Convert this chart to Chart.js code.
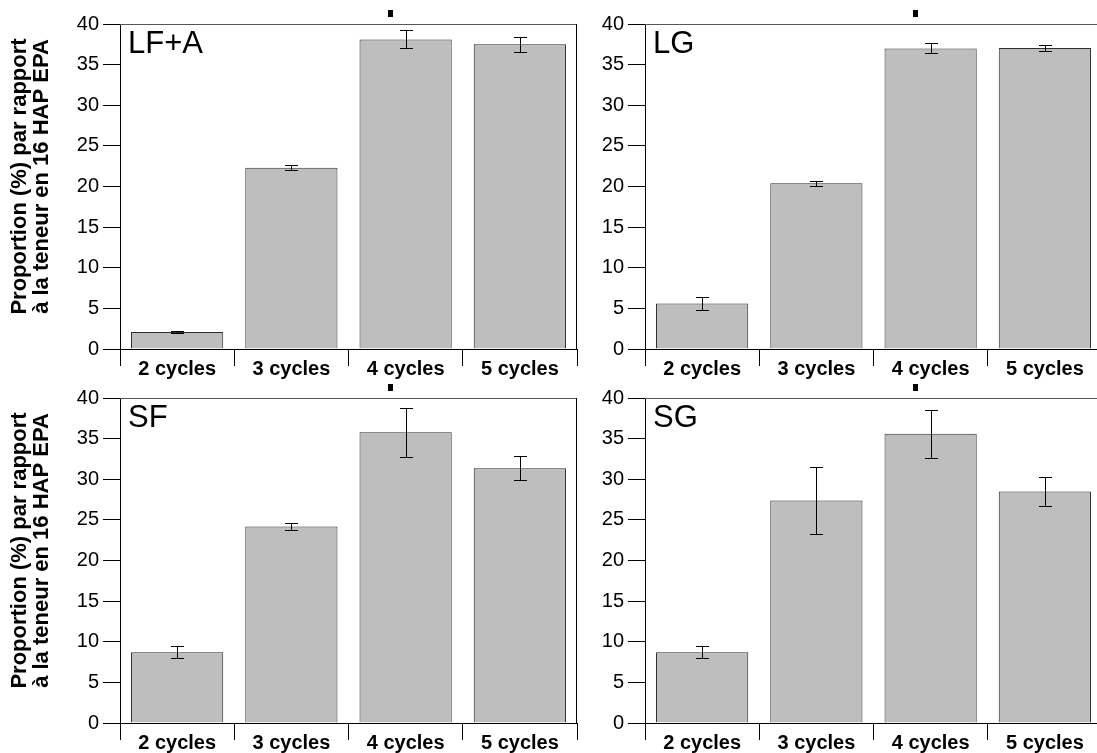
<!DOCTYPE html>
<html>
<head>
<meta charset="utf-8">
<script src="https://cdn.jsdelivr.net/npm/chart.js@4.4.1/dist/chart.umd.min.js"></script>
<style>
  html, body { margin: 0; padding: 0; background: #fff; overflow: hidden; }
  body { width: 1097px; height: 753px; position: relative; }
  canvas { position: absolute; }
</style>
</head>
<body>
<canvas id="cLFA" width="578" height="380" style="left:0;top:0"></canvas>
<canvas id="cLG" width="578" height="380" style="left:525px;top:0"></canvas>
<canvas id="cSF" width="578" height="380" style="left:0;top:374px"></canvas>
<canvas id="cSG" width="578" height="380" style="left:525px;top:374px"></canvas>
<script>
// categories et graduations
const categories = ['2 cycles', '3 cycles', '4 cycles', '5 cycles'];
const yTickValues = [0, 5, 10, 15, 20, 25, 30, 35, 40];
const yTitle = ['Proportion (%) par rapport', 'à la teneur en 16 HAP EPA'];

// moyennes et écarts (%)
const valuesLFA = [2.1, 22.3, 38.1, 37.5];
const errorsLFA = [0.08, 0.3, 1.1, 0.9];
const valuesLG = [5.6, 20.4, 37.0, 37.05];
const errorsLG = [0.75, 0.33, 0.6, 0.4];
const valuesSF = [8.7, 24.2, 35.8, 31.35];
const errorsSF = [0.74, 0.45, 3.0, 1.45];
const valuesSG = [8.7, 27.4, 35.6, 28.5];
const errorsSG = [0.72, 4.1, 2.95, 1.75];

const FONT = '"Liberation Sans", Arial, Helvetica, sans-serif';

const decor = {
    id: 'decor',
    afterDatasetsDraw(chart, args, opts) {
        const ctx = chart.ctx;
        const a = chart.chartArea;
        const x = chart.scales.x, y = chart.scales.y;
        ctx.save();

        // barres d'erreur
        ctx.strokeStyle = '#000';
        ctx.lineWidth = 1;
        chart.getDatasetMeta(0).data.forEach((bar, i) => {
            const v = opts.values[i], e = opts.errors[i];
            const yt = Math.round(y.getPixelForValue(v + e)) + 0.5;
            const yb = Math.round(y.getPixelForValue(v - e)) + 0.5;
            const xc = Math.round(bar.x) + 0.5;
            ctx.beginPath();
            ctx.moveTo(xc, yt); ctx.lineTo(xc, yb);
            ctx.moveTo(xc - 6.5, yt); ctx.lineTo(xc + 6.5, yt);
            ctx.moveTo(xc - 6.5, yb); ctx.lineTo(xc + 6.5, yb);
            ctx.stroke();
        });

        // cadre haut et droit
        ctx.strokeStyle = '#555';
        ctx.beginPath();
        ctx.moveTo(a.left, Math.round(a.top) + 0.5);
        ctx.lineTo(a.right, Math.round(a.top) + 0.5);
        ctx.stroke();
        ctx.strokeStyle = '#000';
        ctx.beginPath();
        ctx.moveTo(Math.round(a.right) - 0.5, a.top);
        ctx.lineTo(Math.round(a.right) - 0.5, a.bottom);
        ctx.stroke();

        // petit repère au-dessus de "4 cycles"
        ctx.fillStyle = '#000';
        ctx.fillRect(Math.round(x.getPixelForValue(2) - 18), Math.round(a.top - 14), 5, 7);

        // nom du panneau
        ctx.font = '31px ' + FONT;
        ctx.textAlign = 'left';
        ctx.textBaseline = 'alphabetic';
        ctx.fillText(opts.name, a.left + 8, a.top + 29);

        // titre de l'axe y (panneaux de gauche)
        if (opts.showTitle) {
            const cy = (a.top + a.bottom) / 2 - 10;
            ctx.font = 'bold 22px ' + FONT;
            ctx.textAlign = 'center';
            ctx.translate(26, cy);
            ctx.rotate(-Math.PI / 2);
            ctx.fillText(yTitle[0], 0, 0);
            ctx.fillText(yTitle[1], 0, 22);
        }
        ctx.restore();
    }
};

function makeChart(id, name, values, errors, showTitle) {
    const ctx = document.getElementById(id).getContext('2d');
    return new Chart(ctx, {
        type: 'bar',
        data: {
            labels: categories,
            datasets: [{
                data: values,
                backgroundColor: '#bebebe',
                borderColor: '#2e2e2e',
                borderWidth: 1,
                barPercentage: 0.807,
                categoryPercentage: 1
            }]
        },
        options: {
            responsive: false,
            animation: false,
            layout: { padding: { top: 24, right: 1, left: 0, bottom: 0 } },
            plugins: {
                legend: { display: false },
                tooltip: { enabled: false },
                decor: { name: name, values: values, errors: errors, showTitle: showTitle }
            },
            scales: {
                x: {
                    offset: true,
                    grid: { display: true, drawOnChartArea: false, offset: true, tickLength: 17, color: '#000', lineWidth: 1 },
                    border: { display: true, color: '#000', width: 1 },
                    ticks: { color: '#000', font: { family: FONT, size: 20, weight: 'bold' }, padding: -9, maxRotation: 0, autoSkip: false },
                    afterFit(s) { s.height = 31; }
                },
                y: {
                    min: 0,
                    max: 40,
                    afterBuildTicks(s) { s.ticks = yTickValues.map(v => ({ value: v })); },
                    grid: { drawOnChartArea: false, tickLength: 17, color: '#000' },
                    border: { display: true, color: '#000', width: 1 },
                    ticks: { color: '#000', font: { family: FONT, size: 20 }, padding: 4 },
                    afterFit(s) { s.width = 120; }
                }
            }
        },
        plugins: [decor]
    });
}

makeChart('cLFA', 'LF+A', valuesLFA, errorsLFA, true);
makeChart('cLG', 'LG', valuesLG, errorsLG, false);
makeChart('cSF', 'SF', valuesSF, errorsSF, true);
makeChart('cSG', 'SG', valuesSG, errorsSG, false);
</script>
</body>
</html>
